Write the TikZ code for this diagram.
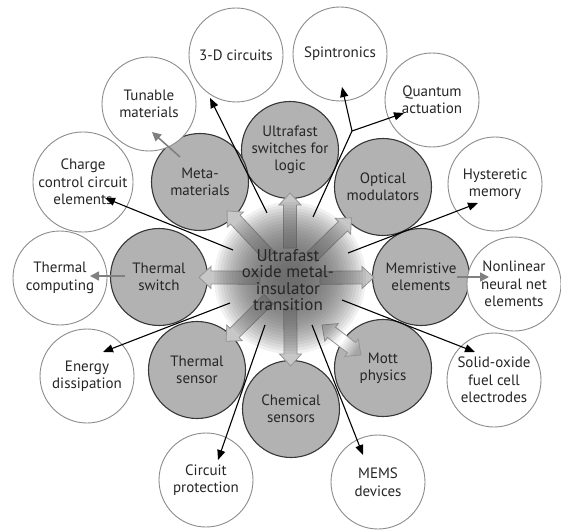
\documentclass[tikz,border=0pt]{standalone}
\usepackage{fontspec}
\setmainfont{PT Sans}
\usetikzlibrary{arrows.meta,calc}
\newcommand\blockarr[3]{%
  \path ($(c)!#2!(#1)$) coordinate (bt) ($(c)!#3!(#1)$) coordinate (bs);
  \path ($(bt)!12pt!(bs)$) coordinate (bh);
  \draw[blk] ($(bs)!6.5pt!90:(bt)$) -- ($(bh)!6.5pt!90:(bt)$) -- ($(bh)!11pt!90:(bt)$) -- (bt)
    -- ($(bh)!11pt!-90:(bt)$) -- ($(bh)!6.5pt!-90:(bt)$) -- ($(bs)!6.5pt!-90:(bt)$) -- cycle;}
\begin{document}
\begin{tikzpicture}[x=1pt,y=-1pt,
  gc/.style={circle,draw=black!78,line width=1.1pt,fill=black!30,minimum size=97pt,inner sep=0pt,align=center,text=black!85,font=\fontsize{15}{17}\selectfont},
  wc/.style={circle,draw=black!45,line width=0.9pt,fill=white,minimum size=94pt,inner sep=0pt,align=center,text=black!85,font=\fontsize{15}{17.5}\selectfont},
  blk/.style={draw=black!42,fill=black!22,line width=0.8pt,line join=miter},
  kline/.style={draw=black,line width=1.1pt},
  karr/.style={kline,-{Triangle[length=10pt,width=8pt]}},
  garr/.style={draw=black!50,line width=1.6pt,-{Triangle[length=9pt,width=9pt]}}]
\useasboundingbox (0,0) rectangle (561,529);
\coordinate (c) at (290,278);
% gray circles
\node[gc] (sw) at (290,150) {Ultrafast\\switches for\\logic};
\node[gc] (om) at (383,187) {Optical\\modulators};
\node[gc] (me) at (421,277) {Memristive\\elements};
\node[gc] (mp) at (383,368) {Mott\\physics};
\node[gc] (ch) at (291,409) {Chemical\\sensors};
\node[gc] (ts) at (197,370) {Thermal\\sensor};
\node[gc] (tw) at (159,277) {Thermal\\switch};
\node[gc] (mm) at (200,182) {Meta-\\materials};
% block arrows
\blockarr{sw}{85pt}{30pt}
\blockarr{om}{86pt}{30pt}
\blockarr{me}{84pt}{30pt}
\blockarr{ch}{88pt}{30pt}
\blockarr{ts}{90pt}{30pt}
\blockarr{tw}{91pt}{30pt}
\blockarr{mm}{92pt}{30pt}
% Mott double arrow
\coordinate (m1) at (322,325);
\coordinate (m2) at (361,355);
\path ($(m1)!12pt!(m2)$) coordinate (h1) ($(m2)!12pt!(m1)$) coordinate (h2);
\shade[draw=black!42,line width=0.8pt,left color=black!20,right color=black!35,middle color=white,shading angle=56]
  ($(h1)!6.5pt!90:(m2)$) -- ($(h1)!11pt!90:(m2)$) -- (m1) -- ($(h1)!11pt!-90:(m2)$) -- ($(h1)!6.5pt!-90:(m2)$)
  -- ($(h2)!6.5pt!-90:(m2)$) -- ($(h2)!11pt!-90:(m2)$) -- (m2) -- ($(h2)!11pt!90:(m2)$) -- ($(h2)!6.5pt!90:(m2)$) -- cycle;
% central glow
\foreach \r in {76,73,...,10} {\fill[black!65,opacity=0.085] (c) circle[radius=\r pt];}
\node[align=center,text=black!85,font=\fontsize{17}{16.5}\selectfont] (ctr) at (288,280) {Ultrafast\\oxide metal-\\insulator\\transition};
% white circles
\node[wc] (d3) at (236,55) {3-D circuits};
\node[wc] (sp) at (340,54) {Spintronics};
\node[wc] (qa) at (432,100) {Quantum\\actuation};
\node[wc] (hm) at (495,184) {Hysteretic\\memory};
\node[wc] (nn) at (514,284) {Nonlinear\\neural net\\elements};
\node[wc] (so) at (494,380) {Solid-oxide\\fuel cell\\electrodes};
\node[wc] (ms) at (378,482) {MEMS\\devices};
\node[wc] (cp) at (206,480) {Circuit\\protection};
\node[wc] (ed) at (87,376) {Energy\\dissipation};
\node[wc] (tc) at (60,278) {Thermal\\computing};
\node[wc] (cc) at (83,182) {Charge\\control circuit\\elements};
\node[wc] (tm) at (149,104) {Tunable\\materials};
% black arrows
\coordinate (s1) at (267,213); \coordinate (e1) at (210,98);
\coordinate (s2) at (313,217); \coordinate (fk) at (352,131);
\coordinate (e2) at (342,87);  \coordinate (e3) at (404,113);
\coordinate (s4) at (348,253); \coordinate (e4) at (478,203);
\coordinate (s5) at (233,250); \coordinate (e5) at (105,198);
\coordinate (s6) at (230,303); \coordinate (e6) at (103,352);
\coordinate (s7) at (265,325); \coordinate (e7) at (218,460);
\coordinate (s8) at (312,325); \coordinate (e8) at (363,455);
\coordinate (s9) at (342,300); \coordinate (e9) at (475,352);
\draw[karr] (s1) -- (e1);
\draw[kline] (s2) -- (fk);
\draw[karr] (fk) -- (e2);
\draw[karr] (fk) -- (e3);
\draw[karr] (s4) -- (e4);
\draw[karr] (s5) -- (e5);
\draw[karr] (s6) -- (e6);
\draw[karr] (s7) -- (e7);
\draw[karr] (s8) -- (e8);
\draw[karr] (s9) -- (e9);
% gray arrows
\coordinate (g1s) at (180,157); \coordinate (g1e) at (152,132);
\coordinate (g2s) at (125,276); \coordinate (g2e) at (90,276);
\coordinate (g3s) at (457,277); \coordinate (g3e) at (489,277);
\draw[garr] (g1s) -- (g1e);
\draw[garr] (g2s) -- (g2e);
\draw[garr] (g3s) -- (g3e);
\end{tikzpicture}
\end{document}
